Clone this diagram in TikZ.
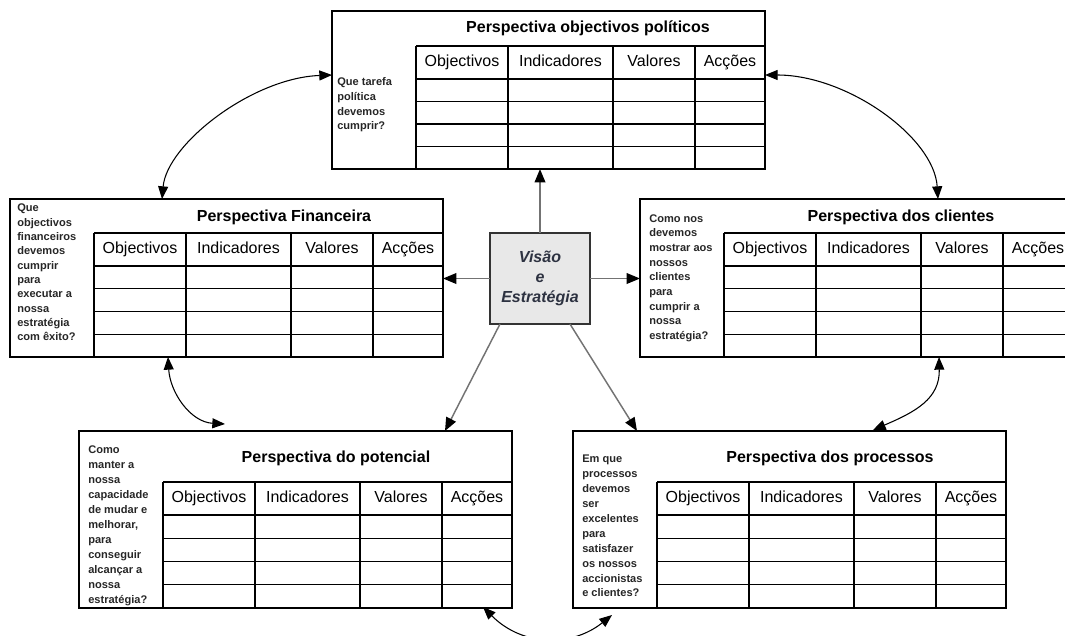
\documentclass[tikz,border=0pt]{standalone}
\usepackage{fontspec}
\setmainfont{Liberation Sans}
\usetikzlibrary{arrows.meta,calc}

% one screen pixel
\newdimen\px \px=0.75pt

\definecolor{visink}{RGB}{45,50,65}

\tikzset{
  pbox/.style={draw, line width=1.1pt, rectangle, inner sep=0pt, outer sep=0pt,
    anchor=north west, minimum width=433\px},
  grid line/.style={line width=1.1pt},
  ptitle/.style={font=\bfseries\fontsize{12}{14}\selectfont, inner sep=0pt,
    text height=8.6pt, text depth=2.5pt},
  phead/.style={font=\fontsize{12}{14}\selectfont, inner sep=0pt,
    text height=8.6pt, text depth=2.5pt},
  pquest/.style={font=\bfseries\fontsize{8.3}{11}\selectfont, align=left,
    inner sep=0pt, anchor=west, text=black!85},
  visbox/.style={draw=black!80, line width=1.3pt, fill=black!9,
    minimum width=100\px, minimum height=91\px, align=center,
    inner sep=0pt, outer sep=0pt, text=visink,
    font=\bfseries\itshape\fontsize{12}{15}\selectfont},
  sarrow/.style={line width=1.1pt, draw=black!55,
    -{Triangle[length=10pt,width=8pt,color=black]}},
  carrow/.style={line width=0.8pt,
    {Triangle[length=9.5pt,width=7.5pt]}-{Triangle[length=9.5pt,width=7.5pt]}},
}

% #1 name, #2/#3 top-left corner, #4 height, #5 top of the table,
% #6/#7 title position, #8 title
\newcommand{\PerspBox}[8]{%
  \node[pbox, minimum height=#4\px] (#1) at (#2,#3) {};
  \begin{scope}[shift={(#1.north west)}]
    \pgfmathsetmacro\rowh{(#4-#5-33)/4}
    \draw[grid line] (84,#5) -- (433,#5);
    \draw[grid line] (84,#5+33) -- (433,#5+33);
    \foreach \k in {1,2,3}
      \draw[grid line] (84,#5+33+\k*\rowh) -- (433,#5+33+\k*\rowh);
    \foreach \cx in {84,176,281,363}
      \draw[grid line] (\cx,#5) -- (\cx,#4);
    \node[ptitle] (#1-title) at (#6,#7) {#8};
    \node[phead] (#1-h1) at (130,#5+16.5) {Objectivos};
    \node[phead] (#1-h2) at (228.5,#5+16.5) {Indicadores};
    \node[phead] (#1-h3) at (322,#5+16.5) {Valores};
    \node[phead] (#1-h4) at (398,#5+16.5) {Acções};
  \end{scope}
}

\begin{document}
\begin{tikzpicture}[x=1\px, y=-1\px]
\useasboundingbox (0,0) rectangle (1065,636);

% the five perspectives
\PerspBox{top}{332}{11}{158}{35}{256}{17}{Perspectiva objectivos políticos}
\PerspBox{fin}{10}{199}{158}{34}{274}{18}{Perspectiva Financeira}
\PerspBox{cli}{640}{199}{158}{34}{261}{18}{Perspectiva dos clientes}
\PerspBox{pot}{79}{431}{177}{51}{257}{27}{Perspectiva do potencial}
\PerspBox{proc}{573}{431}{177}{51}{257}{27}{Perspectiva dos processos}

% guiding questions
\node[pquest] (top-q) at ($(top.north west)+(5,94)$)
  {Que tarefa\\política\\devemos\\cumprir?};
\node[pquest, font=\bfseries\fontsize{8.3}{10.75}\selectfont] (fin-q)
  at ($(fin.north west)+(7,73.5)$)
  {Que\\objectivos\\financeiros\\devemos\\cumprir\\para\\executar a\\nossa\\estratégia\\com êxito?};
\node[pquest] (cli-q) at ($(cli.north west)+(9,79)$)
  {Como nos\\devemos\\mostrar aos\\nossos\\clientes\\para\\cumprir a\\nossa\\estratégia?};
\node[pquest, font=\bfseries\fontsize{8.3}{11.25}\selectfont] (pot-q)
  at ($(pot.north west)+(9,95)$)
  {Como\\manter a\\nossa\\capacidade\\de mudar e\\melhorar,\\para\\conseguir\\alcançar a\\nossa\\estratégia?};
\node[pquest, font=\bfseries\fontsize{8.3}{11.2}\selectfont] (proc-q)
  at ($(proc.north west)+(9,95)$)
  {Em que\\processos\\devemos\\ser\\excelentes\\para\\satisfazer\\os nossos\\accionistas\\e clientes?};

% vision and strategy in the middle
\node[visbox] (vis) at (540,278.5) {Visão\\e\\Estratégia};

% straight arrows out of the centre
\draw[sarrow] (vis.north) -- (vis.north |- top.south);
\draw[sarrow] (vis.west) -- (vis.west -| fin.east);
\draw[sarrow] (vis.east) -- (vis.east -| cli.west);
\draw[sarrow] ($(vis.south west)!0.1!(vis.south east)$) -- ($(pot.north west)+(366,0)$);
\draw[sarrow] ($(vis.south west)!0.8!(vis.south east)$) -- ($(proc.north west)+(64,0)$);

% curved two-way links between neighbouring perspectives
\coordinate (c1a) at ($(top.north west)+(0,64)$);
\coordinate (c1b) at ($(fin.north west)+(152,0)$);
\draw[carrow] (c1b) .. controls +(5,-55) and +(-80,3) .. (c1a);

\coordinate (c2a) at ($(top.north east)+(0,64)$);
\coordinate (c2b) at ($(cli.north west)+(298,0)$);
\draw[carrow] (c2a) .. controls +(82,0) and +(-4,-62) .. (c2b);

\coordinate (c3a) at ($(fin.south west)+(158,0)$);
\coordinate (c3b) at ($(pot.north west)+(146,-7)$);
\draw[carrow] (c3a) .. controls +(2,35) and +(-35,-2) .. (c3b);

\coordinate (c4a) at ($(cli.south west)+(299,0)$);
\coordinate (c4b) at ($(proc.north west)+(300,-1)$);
\draw[carrow] (c4a) .. controls +(1,42) and +(42,-18) .. (c4b);

\coordinate (c5a) at ($(pot.south west)+(404,-1)$);
\coordinate (c5b) at ($(proc.south west)+(39,7)$);
\draw[carrow] (c5a) .. controls +(40,40) and +(-40,32) .. (c5b);
\end{tikzpicture}
\end{document}
